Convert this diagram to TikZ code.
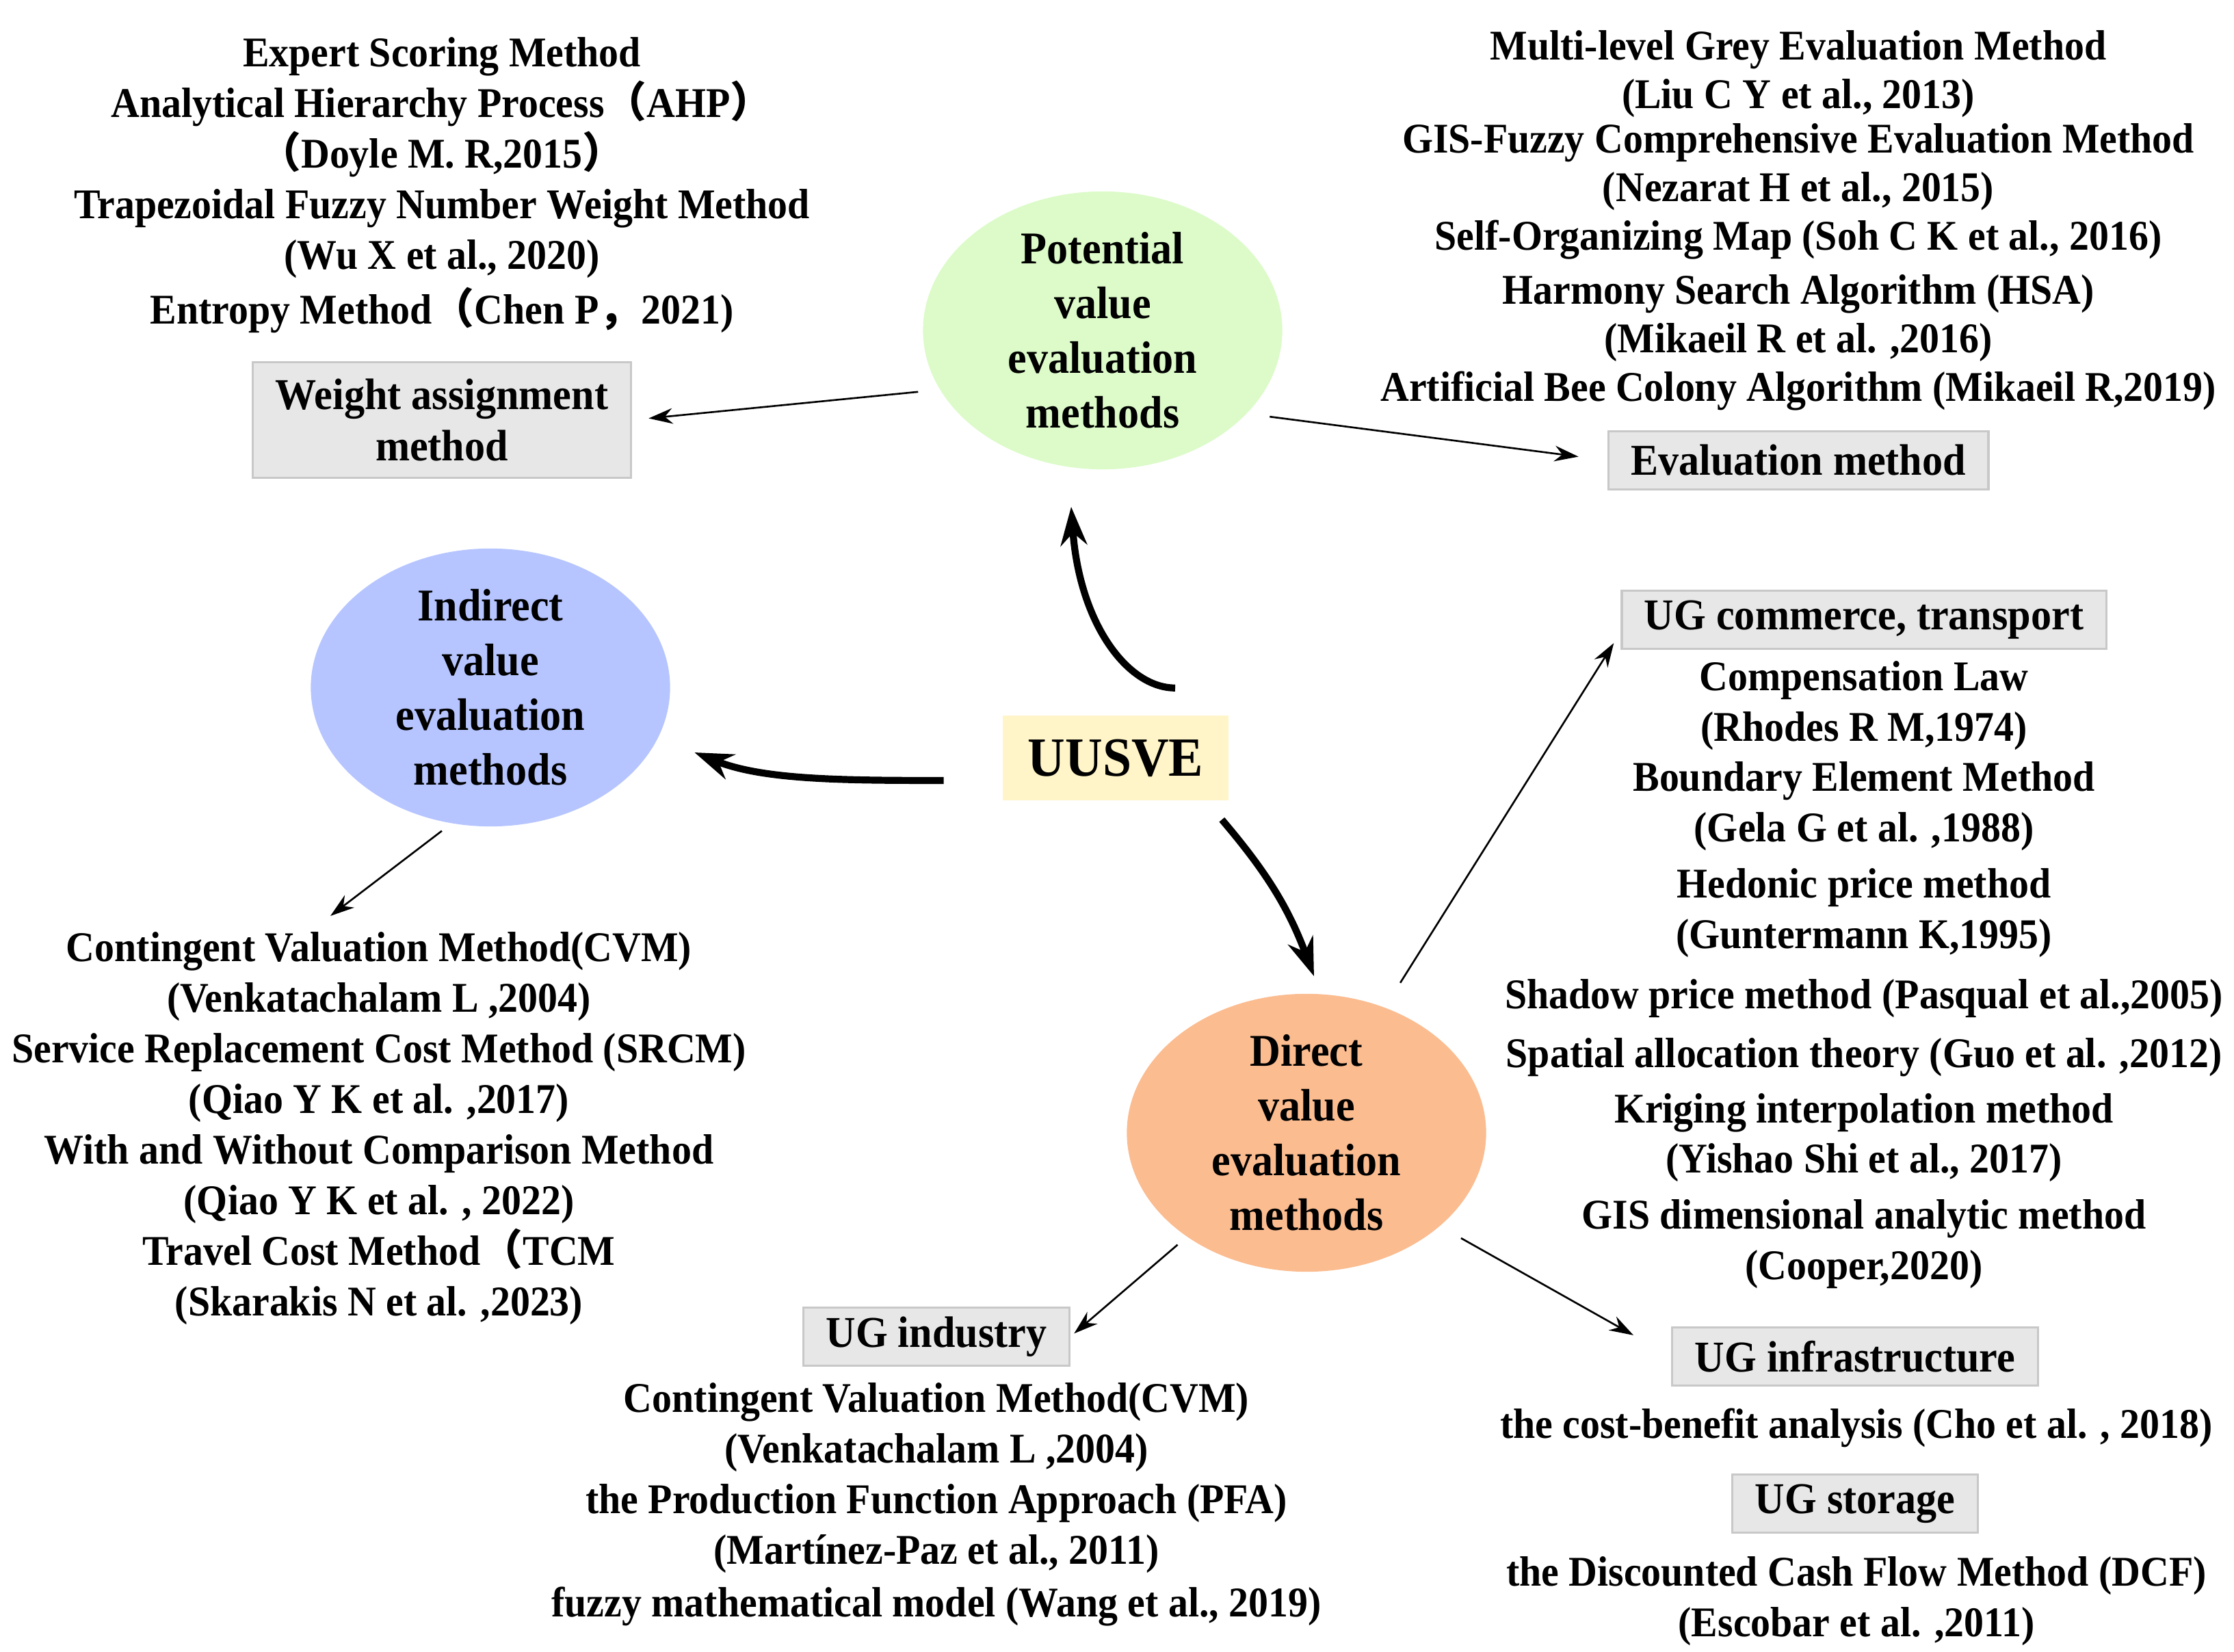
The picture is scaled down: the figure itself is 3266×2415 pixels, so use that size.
\documentclass[tikz,border=0pt]{standalone}
\usepackage{fontspec}
\setmainfont{Liberation Serif}[FakeStretch=0.935]
\newfontfamily\cjk{Noto Sans CJK SC}
\usepackage{tikz}
\usetikzlibrary{arrows.meta,positioning,calc,shapes.geometric}
\definecolor{UusveYellow}{HTML}{FFF5C8}
\definecolor{PotGreen}{HTML}{DCFBC9}
\definecolor{IndBlue}{HTML}{B6C5FF}
\definecolor{DirPeach}{HTML}{FBBC90}
\definecolor{BoxGrey}{HTML}{E7E7E7}
\definecolor{BoxEdge}{HTML}{C8C8C8}
\newcommand{\fw}[1]{{\cjk #1}}

\begin{document}
\begin{tikzpicture}[x=0.01cm,y=0.01cm,>=Stealth]
  \tikzset{lit/.style={align=center,inner sep=0pt,anchor=north,
      font=\bfseries\fontsize{17.6}{21.05}\selectfont},
    kind/.style={ellipse,inner sep=0pt,minimum width=5.25cm,minimum height=3.96cm,
      align=center,font=\bfseries\fontsize{18.9}{22.8}\selectfont},
    group/.style={draw=BoxEdge,fill=BoxGrey,line width=0.9pt,inner xsep=0.33cm,
      inner ysep=0.12cm,minimum height=0.85cm,align=center,
      font=\bfseries\fontsize{18.3}{21.3}\selectfont},
    link/.style={->,line width=0.75pt,>={Stealth[length=10pt,width=6.5pt]}},
    flow/.style={->,line width=2.9pt,>={Stealth[length=16pt,width=11pt]}}}
  \useasboundingbox (0,0) rectangle (3266,2415);
  % evaluation methods
  \node[kind,fill=PotGreen] (pot) at (1612,1932) {Potential\\value\\evaluation\\methods};
  \node[kind,fill=IndBlue] (ind) at (717,1410) {Indirect\\value\\evaluation\\methods};
  \node[kind,fill=DirPeach] (dir) at (1910,759) {Direct\\value\\evaluation\\methods};
  \node[fill=UusveYellow,minimum width=3.29cm,minimum height=1.23cm,
    font=\bfseries\fontsize{23}{27}\selectfont] (uusve) at (1631,1307) {UUSVE};
  % grey boxes
  \node[group,minimum height=1.69cm] (weight) at (646,1801) {Weight assignment\\method};
  \node[group] (evalm) at (2629,1742) {Evaluation method};
  \node[group] (ugcom) at (2725,1509) {UG commerce, transport};
  \node[group] (ugind) at (1369,461) {UG industry};
  \node[group] (uginf) at (2712,432) {UG infrastructure};
  \node[group] (ugsto) at (2712,217) {UG storage};
  % literature
  \node[lit] (weightrefs) at (646,2361) {Expert Scoring Method\\
    Analytical Hierarchy Process\fw{（}AHP\fw{）}\\
    \fw{（}Doyle M. R,2015\fw{）}\\
    Trapezoidal Fuzzy Number Weight Method\\
    (Wu X et al., 2020)\\[1.7pt]
    Entropy Method\fw{（}Chen P\fw{，}2021)};
  \node[lit,font=\bfseries\fontsize{17.6}{20.15}\selectfont] (evalrefs) at (2629,2371)
    {Multi-level Grey Evaluation Method\\
    (Liu C Y et al., 2013)\\[-1.7pt]
    GIS-Fuzzy Comprehensive Evaluation Method\\
    (Nezarat H et al., 2015)\\
    Self-Organizing Map (Soh C K et al., 2016)\\[2.5pt]
    Harmony Search Algorithm (HSA)\\
    (Mikaeil R et al. ,2016)\\
    Artificial Bee Colony Algorithm (Mikaeil R,2019)};
  \node[lit,font=\bfseries\fontsize{17.6}{20.9}\selectfont] (comrefs) at (2725,1449)
    {Compensation Law\\
    (Rhodes R M,1974)\\
    Boundary Element Method\\
    (Gela G et al. ,1988)\\[2.6pt]
    Hedonic price method\\
    (Guntermann K,1995)\\[4.3pt]
    Shadow price method (Pasqual et al.,2005)\\[3.5pt]
    Spatial allocation theory (Guo et al. ,2012)\\[2pt]
    Kriging interpolation method\\
    (Yishao Shi et al., 2017)\\[2.4pt]
    GIS dimensional analytic method\\
    (Cooper,2020)};
  \node[lit] (infrefs) at (2714,357) {the cost-benefit analysis (Cho et al. , 2018)};
  \node[lit] (storefs) at (2714,140) {the Discounted Cash Flow Method (DCF)\\
    (Escobar et al. ,2011)};
  \node[lit] (indrefs) at (554,1053) {Contingent Valuation Method(CVM)\\
    (Venkatachalam L ,2004)\\
    Service Replacement Cost Method (SRCM)\\
    (Qiao Y K et al. ,2017)\\
    With and Without Comparison Method\\
    (Qiao Y K et al. , 2022)\\
    Travel Cost Method\fw{（}TCM\\
    (Skarakis N et al. ,2023)};
  \node[lit] (indurefs) at (1369,394) {Contingent Valuation Method(CVM)\\
    (Venkatachalam L ,2004)\\
    the Production Function Approach (PFA)\\
    (Martínez-Paz et al., 2011)\\[0.8pt]
    fuzzy mathematical model (Wang et al., 2019)};
  % connectors
  \draw[flow] ($(uusve.north)+(87,40)$) .. controls +(-70,0) and +(12,-170) .. ($(pot.south)+(-46,-54)$);
  \draw[flow] ($(uusve.west)+(-86,-33)$) .. controls +(-150,0) and +(100,-40) .. ($(ind.east)+(35,-95)$);
  \draw[flow] ($(uusve.south east)+(-10,-28)$) to[bend left=10] ($(dir.north)+(11,25)$);
  \draw[link,shorten <=9pt,shorten >=7pt] (pot.200) -- (weight.east);
  \draw[link,shorten <=9.5pt,shorten >=12pt] (pot.330) -- (evalm.west);
  \draw[link,shorten <=5pt] (ind.254) -- ($(indrefs.north)+(-71,23)$);
  \draw[link,shorten <=12pt] (dir.58) -- ($(ugcom.south west)+(-10,10)$);
  \draw[link,shorten <=5pt,shorten >=2pt] (dir.221) -- (ugind.east);
  \draw[link,shorten <=10pt,shorten >=18pt] (dir.325) -- (uginf.west);
\end{tikzpicture}
\end{document}
